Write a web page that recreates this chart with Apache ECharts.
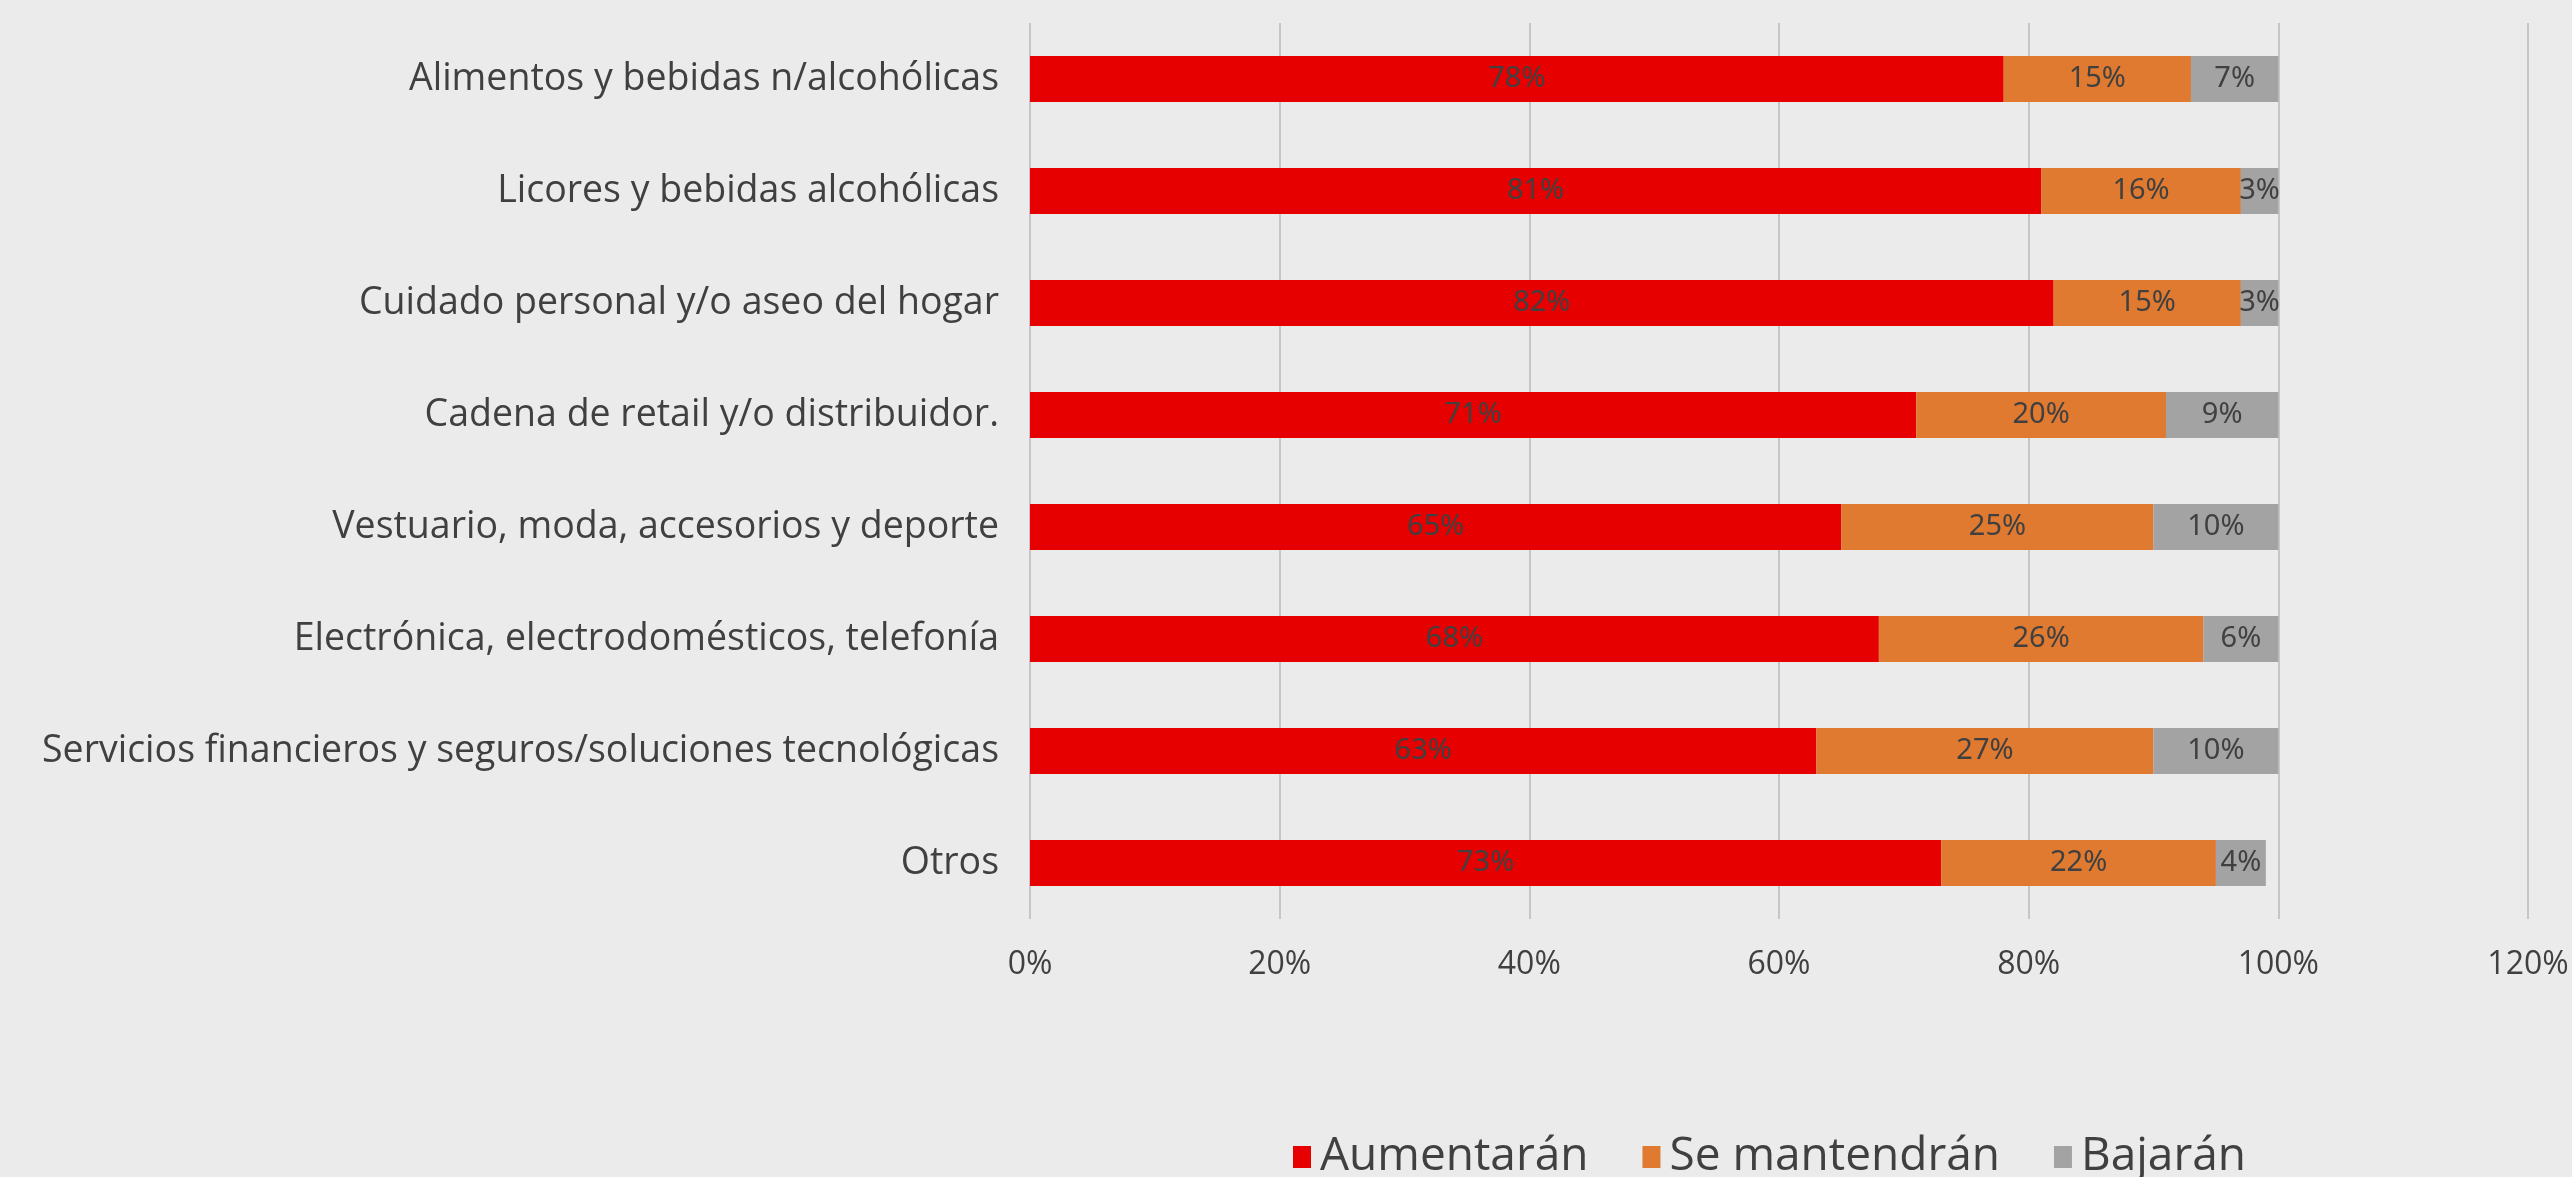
<!DOCTYPE html>
<html lang="es">

<head>
  <meta charset="UTF-8">
  <title>Expectativas por categoría</title>
  <style>
    html, body { margin: 0; padding: 0; background: #ebebeb; }
  </style>
</head>

<body>
  <div id="main" style="width: 2572px; height: 1177px;"></div>
  <script src="https://cdn.jsdelivr.net/npm/echarts@6/dist/echarts.min.js"></script>
  <script type="text/javascript">
    // categorías (de arriba hacia abajo)
    var categories = [
      'Alimentos y bebidas n/alcohólicas',
      'Licores y bebidas alcohólicas',
      'Cuidado personal y/o aseo del hogar',
      'Cadena de retail y/o distribuidor.',
      'Vestuario, moda, accesorios y deporte',
      'Electrónica, electrodomésticos, telefonía',
      'Servicios financieros y seguros/soluciones tecnológicas',
      'Otros'
    ];
    var aumentaran = [78, 81, 82, 71, 65, 68, 63, 73];
    var seMantendran = [15, 16, 15, 20, 25, 26, 27, 22];
    var bajaran = [7, 3, 3, 9, 10, 6, 10, 4];
    var seriesNames = ['Aumentarán', 'Se mantendrán', 'Bajarán'];
    var xTicks = [0, 20, 40, 60, 80, 100, 120];

    var myChart = echarts.init(document.getElementById('main'));

    var fontMain = "'Open Sans', 'Noto Sans', sans-serif";
    var labelStyle = {
      show: true,
      position: 'inside',
      formatter: '{c}%',
      color: '#404040',
      fontSize: 29,
      fontFamily: "'Liberation Sans Narrow', 'Noto Sans', sans-serif"
    };

    function makeSeries(name, data, color) {
      return {
        name: name,
        type: 'bar',
        stack: 'total',
        barWidth: 46,
        data: data,
        itemStyle: { color: color },
        label: labelStyle
      };
    }

    option = {
      backgroundColor: '#ebebeb',
      animation: false,
      grid: {
        left: 1030,
        right: 44,
        top: 23,
        height: 896
      },
      legend: {
        data: seriesNames,
        top: 1134,
        left: 1293,
        padding: 0,
        itemWidth: 18,
        itemHeight: 22,
        itemGap: 54,
        icon: 'rect',
        textStyle: {
          color: '#404040',
          fontSize: 46,
          fontFamily: fontMain,
          padding: [0, 0, 0, 4]
        }
      },
      xAxis: {
        type: 'value',
        min: xTicks[0],
        max: xTicks[xTicks.length - 1],
        interval: 20,
        axisLine: { show: false },
        axisTick: { show: false },
        splitLine: { lineStyle: { color: '#c6c6c6', width: 2 } },
        axisLabel: {
          formatter: '{value}%',
          color: '#404040',
          fontSize: 32,
          margin: 30,
          fontFamily: fontMain
        }
      },
      yAxis: {
        type: 'category',
        inverse: true,
        data: categories,
        axisLine: { show: false },
        axisTick: { show: false },
        axisLabel: {
          color: '#404040',
          fontSize: 37.5,
          margin: 31,
          fontFamily: fontMain
        }
      },
      series: [
        makeSeries(seriesNames[0], aumentaran, '#e60000'),
        makeSeries(seriesNames[1], seMantendran, '#e07a30'),
        makeSeries(seriesNames[2], bajaran, '#a3a3a3')
      ]
    };
    myChart.setOption(option);
  </script>
</body>

</html>
